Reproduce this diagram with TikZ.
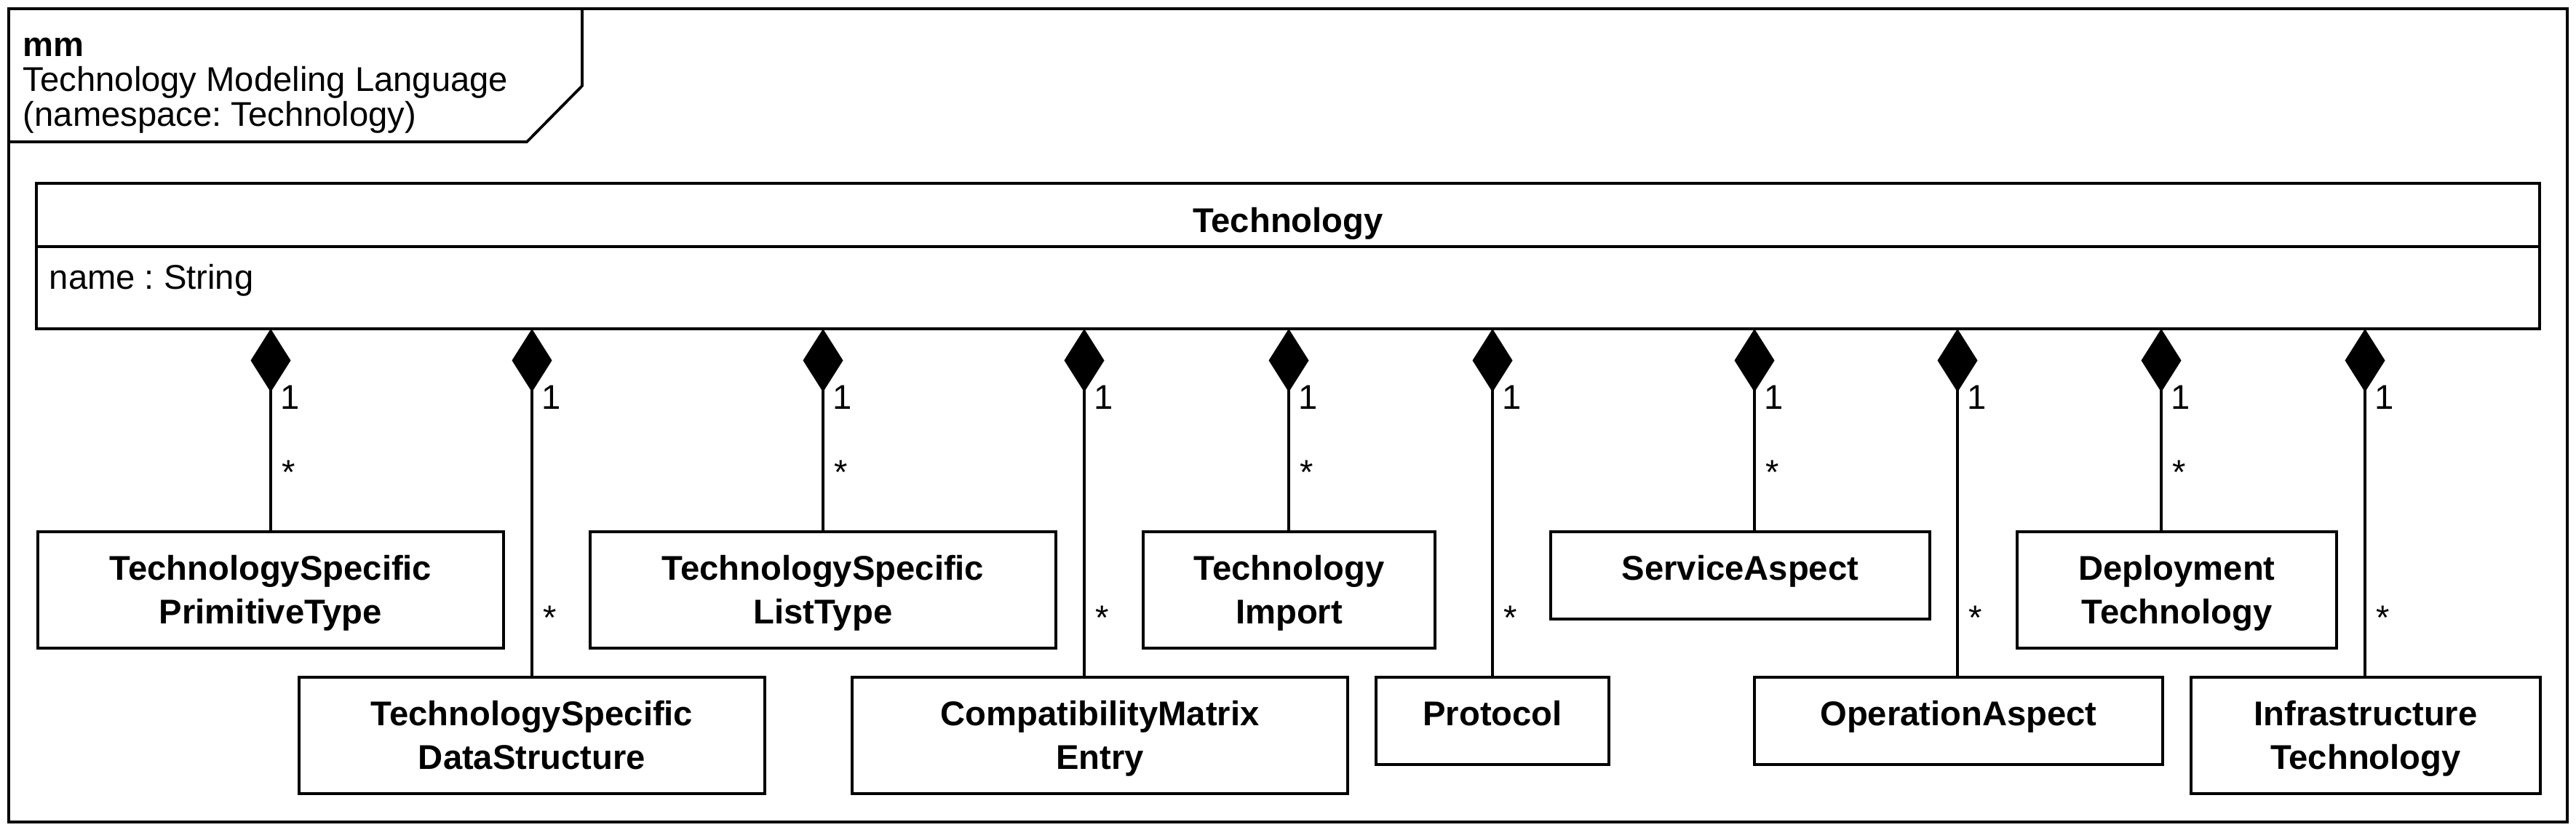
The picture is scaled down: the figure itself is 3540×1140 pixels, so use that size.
\documentclass[tikz,border=0pt]{standalone}
\usepackage{fontspec}
\setmainfont{Liberation Sans}
\usetikzlibrary{arrows.meta,fit,calc}
\frenchspacing
\begin{document}
\begin{tikzpicture}[x=0.25pt,y=-0.25pt,
  frameline/.style={line width=0.95pt},
  cls/.style={draw,line width=0.95pt,inner sep=0pt,outer sep=0pt},
  lbl/.style={anchor=north,align=center,inner sep=0pt,font=\fontsize{11.8}{15}\selectfont\bfseries},
  mult/.style={anchor=base west,inner sep=0pt,font=\fontsize{11.8}{14}\selectfont},
  comp/.style={line width=0.8pt,{Diamond[length=21.75pt,width=13.75pt]}-}
]
\useasboundingbox (0,0) rectangle (3540,1140);
% frame
\node[cls,fit={(12,12) (3528,1130)}] (frame) {};
\draw[frameline] (12,195) -- (724,195) -- (800,118) -- (800,12);
\node[anchor=north west,align=left,inner sep=0pt,font=\fontsize{11.8}{12}\selectfont] (title) at (31,29)
  {\rule{0pt}{12pt}\textbf{mm}\\Technology Modeling Language\\(namespace: Technology)};
% Technology class
\node[cls,fit={(50,252) (3490,452)}] (tech) {};
\draw[frameline] (tech.west |- 0,339) -- (tech.east |- 0,339);
\node[anchor=base,inner sep=0pt,font=\fontsize{11.8}{14}\selectfont\bfseries] (techT) at (1770,319) {Technology};
\node[anchor=base west,inner sep=0pt,font=\fontsize{11.8}{14}\selectfont] (attr) at (67,397) {name : String};
% boxes
\node[cls,fit={(52,731) (692,891)}] (prim) {};
\node[cls,fit={(411,931) (1051,1091)}] (ds) {};
\node[cls,fit={(811,731) (1451,891)}] (lt) {};
\node[cls,fit={(1171,931) (1852,1091)}] (cm) {};
\node[cls,fit={(1571,731) (1972,891)}] (imp) {};
\node[cls,fit={(1891,931) (2211,1051)}] (pr) {};
\node[cls,fit={(2131,731) (2652,851)}] (sa) {};
\node[cls,fit={(2411,931) (2972,1051)}] (oa) {};
\node[cls,fit={(2772,731) (3211,891)}] (dt) {};
\node[cls,fit={(3011,931) (3491,1091)}] (it) {};
% labels
\node[lbl] (primT) at ($(prim.north)+(0,18)$) {\rule{0pt}{12pt}TechnologySpecific\\PrimitiveType};
\node[lbl] (dsT) at ($(ds.north)+(0,18)$) {\rule{0pt}{12pt}TechnologySpecific\\DataStructure};
\node[lbl] (ltT) at ($(lt.north)+(0,18)$) {\rule{0pt}{12pt}TechnologySpecific\\ListType};
\node[lbl] (cmT) at ($(cm.north)+(0,18)$) {\rule{0pt}{12pt}CompatibilityMatrix\\Entry};
\node[lbl] (impT) at ($(imp.north)+(0,18)$) {\rule{0pt}{12pt}Technology\\Import};
\node[lbl] (prT) at ($(pr.north)+(0,18)$) {\rule{0pt}{12pt}Protocol};
\node[lbl] (saT) at ($(sa.north)+(0,18)$) {\rule{0pt}{12pt}ServiceAspect};
\node[lbl] (oaT) at ($(oa.north)+(0,18)$) {\rule{0pt}{12pt}OperationAspect};
\node[lbl] (dtT) at ($(dt.north)+(0,18)$) {\rule{0pt}{12pt}Deployment\\Technology};
\node[lbl] (itT) at ($(it.north)+(0,18)$) {\rule{0pt}{12pt}Infrastructure\\Technology};
% connector start points on Technology
\coordinate (c1) at ($(tech.south west)+(322,0)$);
\coordinate (c2) at ($(tech.south west)+(681,0)$);
\coordinate (c3) at ($(tech.south west)+(1081,0)$);
\coordinate (c4) at ($(tech.south west)+(1440,0)$);
\coordinate (c5) at ($(tech.south west)+(1721,0)$);
\coordinate (c6) at ($(tech.south west)+(2001,0)$);
\coordinate (c7) at ($(tech.south west)+(2361,0)$);
\coordinate (c8) at ($(tech.south west)+(2640,0)$);
\coordinate (c9) at ($(tech.south west)+(2920,0)$);
\coordinate (c10) at ($(tech.south west)+(3200,0)$);
\draw[comp] (c1) -- (c1 |- prim.north);
\draw[comp] (c2) -- (c2 |- ds.north);
\draw[comp] (c3) -- (c3 |- lt.north);
\draw[comp] (c4) -- (c4 |- cm.north);
\draw[comp] (c5) -- (c5 |- imp.north);
\draw[comp] (c6) -- (c6 |- pr.north);
\draw[comp] (c7) -- (c7 |- sa.north);
\draw[comp] (c8) -- (c8 |- oa.north);
\draw[comp] (c9) -- (c9 |- dt.north);
\draw[comp] (c10) -- (c10 |- it.north);
% multiplicities
\node[mult] (m1a) at ($(c1)+(13,110)$) {1};
\node[mult] (m2a) at ($(c2)+(13,110)$) {1};
\node[mult] (m3a) at ($(c3)+(13,110)$) {1};
\node[mult] (m4a) at ($(c4)+(13,110)$) {1};
\node[mult] (m5a) at ($(c5)+(13,110)$) {1};
\node[mult] (m6a) at ($(c6)+(13,110)$) {1};
\node[mult] (m7a) at ($(c7)+(13,110)$) {1};
\node[mult] (m8a) at ($(c8)+(13,110)$) {1};
\node[mult] (m9a) at ($(c9)+(13,110)$) {1};
\node[mult] (m10a) at ($(c10)+(13,110)$) {1};
\node[mult] (m1b) at ($(c1)+(15,213)$) {*};
\node[mult] (m3b) at ($(c3)+(15,213)$) {*};
\node[mult] (m5b) at ($(c5)+(15,213)$) {*};
\node[mult] (m7b) at ($(c7)+(15,213)$) {*};
\node[mult] (m9b) at ($(c9)+(15,213)$) {*};
\node[mult] (m2b) at ($(c2)+(15,413)$) {*};
\node[mult] (m4b) at ($(c4)+(15,413)$) {*};
\node[mult] (m6b) at ($(c6)+(15,413)$) {*};
\node[mult] (m8b) at ($(c8)+(15,413)$) {*};
\node[mult] (m10b) at ($(c10)+(15,413)$) {*};
\end{tikzpicture}
\end{document}
